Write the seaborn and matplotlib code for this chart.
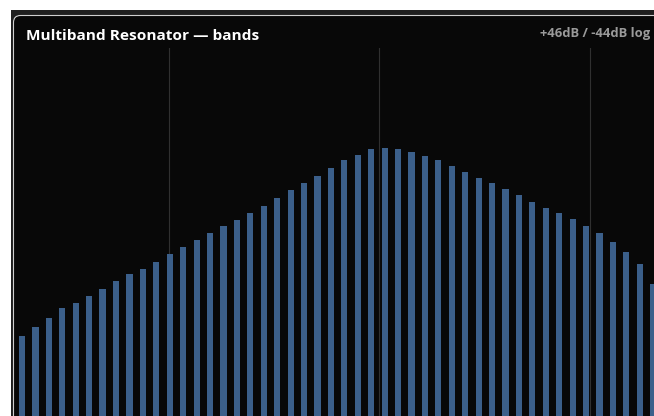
import numpy as np
import pandas as pd
import matplotlib
matplotlib.use("Agg")
import matplotlib.pyplot as plt
import matplotlib.transforms as mtransforms
from matplotlib.patches import Rectangle, FancyBboxPatch
import seaborn as sns

# Band levels in dB, one per log-spaced band from 20 Hz to 20 kHz
levels_db = [
    -24.4, -22.2, -20.1, -17.7, -16.3, -14.6, -12.9, -11.1, -9.3, -8.0,
    -6.3, -4.5, -2.7, -1.0, 0.8, 2.5, 3.9, 5.6, 7.4, 9.4,
    11.2, 12.9, 14.7, 16.7, 18.5, 19.9, 21.3, 21.5, 21.3, 20.6,
    19.5, 18.5, 17.1, 15.7, 14.3, 12.9, 11.5, 10.1, 8.3, 6.9,
    5.6, 4.2, 2.5, 0.8, -1.4, -3.8, -6.9, -11.8,
]
f_low, f_high = 20.0, 20000.0
grid_freqs = [100, 1000, 10000]
db_top, db_floor = 46, -44
title = "Multiband Resonator \u2014 bands"
range_label = "+46dB / -44dB log"

n_bands = len(levels_db)
decades = np.log10(f_high / f_low)

df = pd.DataFrame({
    "band": np.arange(n_bands),
    "height": np.array(levels_db) - db_floor,
})

W, H = 654, 416
fig = plt.figure(figsize=(W / 100, H / 100), dpi=100, facecolor="white")
px = mtransforms.IdentityTransform()

# outer dark container and rounded panel
fig.add_artist(Rectangle((11, -10), 700, H - 10 + 10, transform=px,
                         facecolor="#1f1f1f", edgecolor="none", zorder=-10))
fig.add_artist(FancyBboxPatch((13.5, -40), 700, (H - 15.5) + 40,
                              boxstyle="round,pad=0,rounding_size=7",
                              transform=px, facecolor="#080808",
                              edgecolor="#cfcfcf", linewidth=0.8, zorder=-9))

# plot area: band centres start at x=22px with a 13.43px pitch
pitch = 13.43
x0_px, x1_px = 14, W
top_px = 48
ax = fig.add_axes([x0_px / W, 0, (x1_px - x0_px) / W, 1 - top_px / H])
ax.set_facecolor("none")

for f in grid_freqs:
    pos = (n_bands - 1) * np.log10(f / f_low) / decades
    ax.axvline(pos, color="#303030", linewidth=0.8, zorder=0)

sns.barplot(data=df, x="band", y="height", native_scale=True, width=0.46,
            color="#3b5f8a", saturation=1, linewidth=0, ax=ax, zorder=2)

ax.set_xlim((x0_px - 22) / pitch, (x1_px - 22) / pitch)
ax.set_ylim(0, db_top - db_floor)
ax.set_axis_off()

fig.text(26 / W, 1 - 39.5 / H, title, color="white", fontsize=11.1,
         fontweight="bold", family="Open Sans", va="baseline", ha="left")
fig.text(650 / W, 1 - 37.5 / H, range_label, color="#9a9a9a", fontsize=9.4,
         fontweight="bold", family="Open Sans", va="baseline", ha="right")

fig.savefig("out.png", dpi=100, facecolor="white")
